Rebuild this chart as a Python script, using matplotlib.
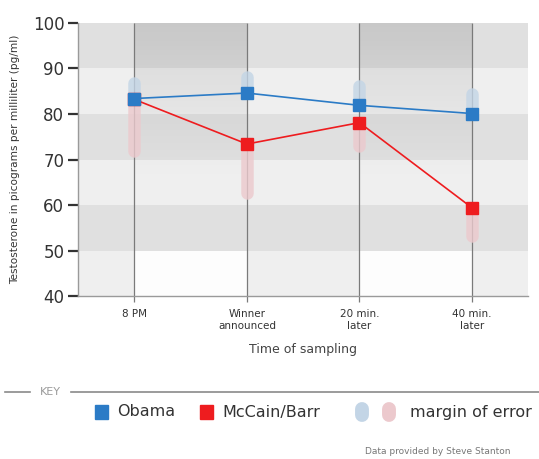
import matplotlib.pyplot as plt
import numpy as np

# datos
momentos = ["8 PM", "Winner\nannounced", "20 min.\nlater", "40 min.\nlater"]
obama = [83.4, 84.6, 81.9, 80.1]
mccain = [83.2, 73.4, 78.1, 59.4]
obama_err_sup = [88.2, 89.6, 87.6, 85.7]
mccain_err_inf = [70.6, 61.2, 71.6, 51.8]

yticks = [40, 50, 60, 70, 80, 90, 100]
bandas_oscuras = [(50, 60), (70, 80), (90, 100)]
bandas_claras = [(40, 50), (60, 70), (80, 90)]
columnas_sombra = [(0, 1), (2, 3)]

AZUL = "#2b7bc6"
ROJO = "#ee1c1f"
AZUL_CLARO = "#c3d5e6"
ROSA_CLARO = "#ecc9cd"
TEXTO = "#333333"

fig = plt.figure(figsize=(5.39, 4.59), dpi=100)
ax = fig.add_axes([0.145, 0.355, 0.835, 0.595])

x = np.arange(len(momentos))

# fondo a bandas
for lo, hi in bandas_oscuras:
    ax.axhspan(lo, hi, color="#e0e0e0", lw=0, zorder=0)
for lo, hi in bandas_claras:
    ax.axhspan(lo, hi, color="#efefef", lw=0, zorder=0)

# columnas: gris que se desvanece hacia abajo, banda inferior blanca
n = 256
t = np.linspace(1, 0, n)  # 1 arriba, 0 abajo
oscuro = np.zeros((n, 1, 4))
oscuro[:, 0, 3] = np.clip((t - 0.4) / 0.6, 0, 1) ** 1.3 * 0.11
for a, b in columnas_sombra:
    ax.imshow(oscuro, extent=(a, b, 40, 100), aspect="auto", origin="upper",
              zorder=1, interpolation="bilinear")
    lo, hi = bandas_claras[0]
    ax.fill_between([a, b], lo, hi, color="white", alpha=0.9, lw=0, zorder=1)
ax.set_xlim(-0.5, len(momentos) - 0.5)
ax.set_ylim(40, 100)

# líneas verticales de cada momento
ax.vlines(x, 40, 100, color="#7a7a7a", lw=0.9, zorder=2)

# margen de error (barras redondeadas)
lw_err = 9.0
cap = (lw_err / 2) / 72 * 100 / (ax.get_position().height * 459) * 60
for xi, o, oe in zip(x, obama, obama_err_sup):
    ax.plot([xi, xi], [o, oe - cap], color=AZUL_CLARO, lw=lw_err,
            solid_capstyle="round", alpha=0.8, zorder=3)
for xi, m, me in zip(x, mccain, mccain_err_inf):
    ax.plot([xi, xi], [m, me + cap], color=ROSA_CLARO, lw=lw_err,
            solid_capstyle="round", alpha=0.8, zorder=3)

ax.plot(x, mccain, color=ROJO, lw=1.2, marker="s", ms=8, mec=ROJO, zorder=4)
ax.plot(x, obama, color=AZUL, lw=1.2, marker="s", ms=8, mec=AZUL, zorder=5)

# ejes
for s in ["top", "right"]:
    ax.spines[s].set_visible(False)
ax.spines["left"].set_color("#9a9a9a")
ax.spines["bottom"].set_color("#9a9a9a")
ax.spines["left"].set_linewidth(1.0)
ax.spines["bottom"].set_linewidth(1.0)

ax.set_yticks(yticks)
ax.tick_params(axis="y", length=7, width=1.6, color="#333333",
               labelsize=12, labelcolor=TEXTO, pad=3)
ax.set_xticks(x)
ax.set_xticklabels(momentos, fontsize=7.5, color=TEXTO, fontweight="medium",
                   linespacing=1.25)
ax.tick_params(axis="x", length=4, width=0.9, color="#7a7a7a", pad=5)

ax.set_ylabel("Testosterone in picograms per milliliter (pg/ml)", fontsize=7.6,
              color=TEXTO, labelpad=9)
ax.set_xlabel("Time of sampling", fontsize=9, color="#444444", labelpad=9)

# leyenda tipo "KEY"
fig.add_artist(plt.Line2D([5 / 539, 30 / 539], [1 - 392 / 459] * 2,
                          color="#8a8a8a", lw=1.2))
fig.add_artist(plt.Line2D([71 / 539, 1.0], [1 - 392 / 459] * 2,
                          color="#8a8a8a", lw=1.2))
fig.text(50 / 539, 1 - 392 / 459, "KEY", fontsize=8, color="#9a9a9a",
         ha="center", va="center")

ley_y = 1 - 412 / 459
fig.patches.append(plt.Rectangle((95 / 539, 1 - 419 / 459), 13 / 539, 14 / 459,
                                 transform=fig.transFigure, color=AZUL, figure=fig))
fig.text(117 / 539, ley_y, "Obama", fontsize=11.5, color=TEXTO, va="center")
fig.patches.append(plt.Rectangle((200 / 539, 1 - 419 / 459), 13 / 539, 14 / 459,
                                 transform=fig.transFigure, color=ROJO, figure=fig))
fig.text(222 / 539, ley_y, "McCain/Barr", fontsize=11.5, color=TEXTO, va="center")
for cx, col in [(362, AZUL_CLARO), (389, ROSA_CLARO)]:
    fig.add_artist(plt.Line2D([cx / 539, cx / 539], [1 - 415 / 459, 1 - 409 / 459],
                              color=col, lw=10, solid_capstyle="round"))
fig.text(410 / 539, ley_y, "margin of error", fontsize=11.5, color=TEXTO, va="center")

fig.text(365 / 539, 1 - 452 / 459, "Data provided by Steve Stanton", fontsize=6.5,
         color="#777777", va="center")

fig.savefig("out.png", dpi=100, facecolor="white")
